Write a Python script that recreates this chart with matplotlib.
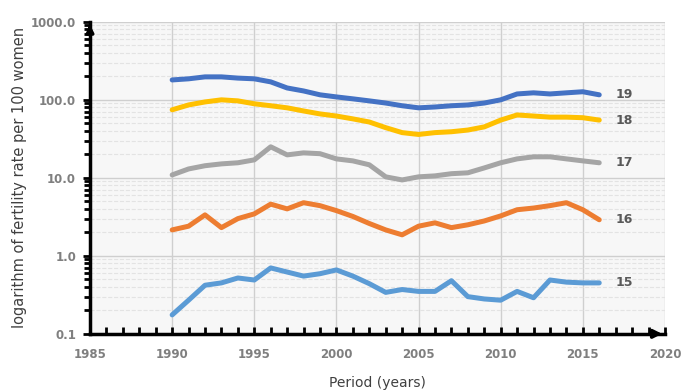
import numpy as np
import matplotlib.pyplot as plt
from matplotlib.ticker import FixedLocator, LogLocator, NullFormatter, MultipleLocator

plt.rcParams['font.family'] = 'DejaVu Sans'

years = list(range(1990, 2017))

# fertility rate per 100 women, by age group
age_19 = [180, 186, 197, 197, 190, 186, 170, 142, 130, 116, 109, 103, 97, 91, 84,
          79, 81, 84, 86, 91, 100, 119, 123, 119, 123, 127, 116]
age_18 = [74.5, 86, 94, 100, 97, 89, 84, 79, 72, 66, 62, 57, 52, 44, 38,
          36, 38, 39, 41, 45, 55, 64, 62, 60, 60, 59, 55]
age_17 = [10.9, 13.0, 14.3, 15.1, 15.6, 17.0, 25, 19.7, 20.9, 20.4, 17.5, 16.5, 14.7, 10.3, 9.4,
          10.3, 10.6, 11.3, 11.6, 13.4, 15.6, 17.5, 18.6, 18.6, 17.5, 16.5, 15.6]
age_16 = [2.15, 2.4, 3.35, 2.3, 3.0, 3.45, 4.6, 4.0, 4.8, 4.4, 3.8, 3.2, 2.6, 2.15, 1.86,
          2.4, 2.65, 2.3, 2.5, 2.8, 3.25, 3.9, 4.1, 4.4, 4.8, 3.9, 2.9]
age_15 = [0.175, 0.27, 0.42, 0.45, 0.52, 0.49, 0.70, 0.62, 0.55, 0.59, 0.66, 0.55, 0.44, 0.34, 0.37,
          0.35, 0.35, 0.48, 0.30, 0.28, 0.27, 0.35, 0.29, 0.49, 0.46, 0.45, 0.45]

series = [("19", age_19, "#4472C4"),
          ("18", age_18, "#FFC000"),
          ("17", age_17, "#A5A5A5"),
          ("16", age_16, "#ED7D31"),
          ("15", age_15, "#5B9BD5")]

fig = plt.figure(figsize=(6.82, 3.90), dpi=100)
ax = fig.add_axes([0.132, 0.144, 0.843, 0.800])
ax.set_facecolor('#f7f7f7')

for label, vals, col in series:
    ax.plot(years, vals, color=col, linewidth=3.6, solid_capstyle='round', solid_joinstyle='round')
    ax.text(2017.0, vals[-1], label, color='#595959', fontsize=9, fontweight='bold',
            va='center', ha='left')

ax.set_yscale('log')
ax.set_ylim(0.1, 1000)
ax.set_xlim(1985, 2020)

ax.yaxis.set_major_locator(FixedLocator([0.1, 1, 10, 100, 1000]))
ax.set_yticklabels(['0.1', '1.0', '10.0', '100.0', '1000.0'])
ax.yaxis.set_minor_locator(LogLocator(base=10, subs=np.arange(2, 10)))
ax.yaxis.set_minor_formatter(NullFormatter())
ax.xaxis.set_major_locator(MultipleLocator(5))
ax.xaxis.set_minor_locator(MultipleLocator(1))

ax.grid(True, which='major', color='#cfcfcf', linewidth=1.0)
ax.grid(True, which='minor', axis='y', color='#e3e3e3', linewidth=0.8, linestyle='--')

for side in ['top', 'right']:
    ax.spines[side].set_visible(False)
ax.spines['left'].set_linewidth(2.5)
ax.spines['bottom'].set_linewidth(2.5)

ax.tick_params(axis='y', which='major', direction='out', length=5, width=2,
               labelsize=8.5, labelcolor='#7f7f7f', pad=5)
ax.tick_params(axis='y', which='minor', direction='out', length=4, width=2)
ax.tick_params(axis='x', which='both', direction='in', length=5, width=2,
               labelsize=8.5, labelcolor='#7f7f7f', pad=10)
for t in ax.get_xticklabels() + ax.get_yticklabels():
    t.set_fontweight('bold')

# arrow heads at the ends of the axes
ax.annotate('', xy=(1.0, 0), xycoords='axes fraction', xytext=(0.97, 0),
            arrowprops=dict(arrowstyle='-|>', color='black', lw=2.5, mutation_scale=12))
ax.annotate('', xy=(0, 1.0), xycoords='axes fraction', xytext=(0, 0.97),
            arrowprops=dict(arrowstyle='-|>', color='black', lw=2.5, mutation_scale=10))

ax.set_ylabel('logarithm of fertility rate per 100 women', fontsize=10.5, color='#404040')
ax.yaxis.set_label_coords(-0.11, 0.5)
ax.set_xlabel('Period (years)', fontsize=10, color='#404040')
ax.xaxis.set_label_coords(0.5, -0.135)

fig.savefig('out.png', dpi=100)
